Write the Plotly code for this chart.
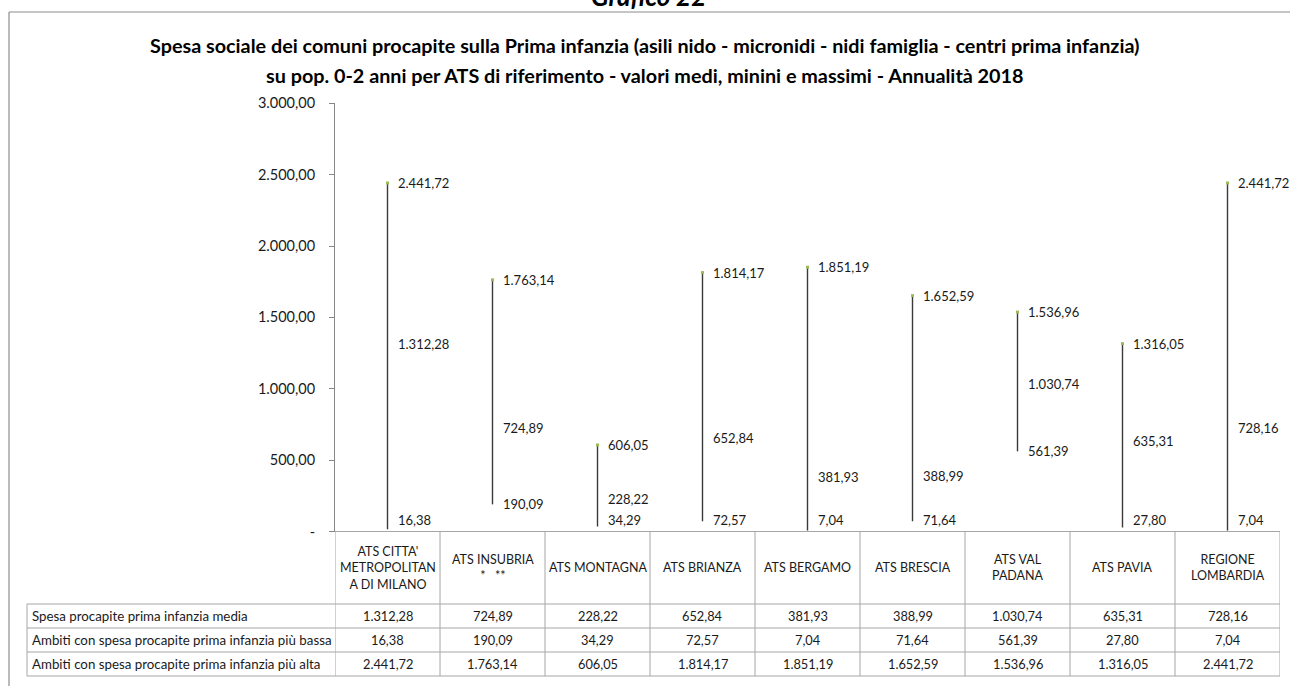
import plotly.graph_objects as go

# ---------------- data ----------------
categories = ["ATS CITTA'<br>METROPOLITAN<br>A DI MILANO", "ATS INSUBRIA<br>*   **", "ATS MONTAGNA",
              "ATS BRIANZA", "ATS BERGAMO", "ATS BRESCIA", "ATS VAL<br>PADANA", "ATS PAVIA",
              "REGIONE<br>LOMBARDIA"]
media = [1312.28, 724.89, 228.22, 652.84, 381.93, 388.99, 1030.74, 635.31, 728.16]
low = [16.38, 190.09, 34.29, 72.57, 7.04, 71.64, 561.39, 27.80, 7.04]
high = [2441.72, 1763.14, 606.05, 1814.17, 1851.19, 1652.59, 1536.96, 1316.05, 2441.72]
row_labels = ["Spesa procapite prima infanzia media",
              "Ambiti con spesa procapite prima infanzia più bassa",
              "Ambiti con spesa procapite prima infanzia più alta"]
y_ticks = [0, 500, 1000, 1500, 2000, 2500, 3000]
title_lines = ["Spesa sociale dei comuni procapite sulla Prima infanzia (asili nido - micronidi - nidi famiglia - centri prima infanzia)",
               "su pop. 0-2 anni per ATS di riferimento - valori medi, minini e massimi - Annualità 2018"]
chart_caption = "Grafico 22"

# ---------------- geometry / style ----------------
W, H = 1290, 686
FONT = "Lato, sans-serif"
TXT = "#1a1a1a"
GRID = "#a6a6a6"

def px_x(p):
    return p / W

def px_y(p):
    return 1 - p / H

def it(v):
    s = f"{v:,.2f}"
    return s.replace(",", "X").replace(".", ",").replace("X", ".")

PLOT_L, PLOT_R, PLOT_T, PLOT_B = 335, 1280, 103.3, 531.5
TABLE_L = 27
HEADER_B = 604
ROW_H = 24

fig = go.Figure()

# high-low lines
xs, ys = [], []
for c, lo, hi in zip(categories, low, high):
    xs += [c, c, None]
    ys += [lo, hi, None]
fig.add_trace(go.Scatter(x=xs, y=ys, mode="lines", line=dict(color="#3a3a3a", width=1.4),
                         hoverinfo="skip", connectgaps=False))
# high markers
fig.add_trace(go.Scatter(x=categories, y=high, mode="markers",
                         marker=dict(size=3, color="#9bbb59", symbol="square"), hoverinfo="skip"))

annotations = []
# data labels
for series in (media, low, high):
    for c, v in zip(categories, series):
        annotations.append(dict(x=c, y=max(v, 80), xref="x", yref="y", text=it(v), showarrow=False,
                                xanchor="left", yanchor="middle", xshift=8,
                                font=dict(family=FONT, size=13, color=TXT)))

# titles
annotations.append(dict(x=px_x(648), y=px_y(-4), xref="paper", yref="paper", text="<b><i>%s</i></b>" % chart_caption,
                        showarrow=False, xanchor="center", yanchor="middle",
                        font=dict(family=FONT, size=26, color="#000000")))
for i, t in enumerate(title_lines):
    annotations.append(dict(x=px_x(645), y=px_y(45 + 30 * i), xref="paper", yref="paper", text="<b>%s</b>" % t,
                            showarrow=False, xanchor="center", yanchor="middle",
                            font=dict(family=FONT, size=19.8, color="#000000")))

# table header
for c in categories:
    annotations.append(dict(x=c, y=px_y((PLOT_B + HEADER_B) / 2), xref="x", yref="paper", text=c,
                            showarrow=False, xanchor="center", yanchor="middle", align="center",
                            font=dict(family=FONT, size=12.5, color=TXT)))
# table rows
for r, (lab, series) in enumerate(zip(row_labels, (media, low, high))):
    yc = px_y(HEADER_B + ROW_H * r + ROW_H / 2)
    annotations.append(dict(x=px_x(TABLE_L + 3), y=yc, xref="paper", yref="paper", text=lab,
                            showarrow=False, xanchor="left", yanchor="middle",
                            font=dict(family=FONT, size=13.3, color=TXT)))
    for c, v in zip(categories, series):
        annotations.append(dict(x=c, y=yc, xref="x", yref="paper", text=it(v), showarrow=False,
                                xanchor="center", yanchor="middle",
                                font=dict(family=FONT, size=12.8, color=TXT)))

shapes = []
# chart area border (top and left)
shapes.append(dict(type="line", xref="paper", yref="paper", x0=px_x(9), x1=1, y0=px_y(12), y1=px_y(12),
                   line=dict(color="#8c8c8c", width=1.2)))
shapes.append(dict(type="line", xref="paper", yref="paper", x0=px_x(9), x1=px_x(9), y0=px_y(12), y1=0,
                   line=dict(color="#8c8c8c", width=1.2)))
# table horizontal lines
shapes.append(dict(type="line", xref="paper", yref="paper", x0=px_x(PLOT_L), x1=px_x(PLOT_R),
                   y0=px_y(PLOT_B), y1=px_y(PLOT_B), line=dict(color=GRID, width=1)))
for r in range(4):
    yy = px_y(HEADER_B + ROW_H * r)
    shapes.append(dict(type="line", xref="paper", yref="paper", x0=px_x(TABLE_L), x1=px_x(PLOT_R),
                       y0=yy, y1=yy, line=dict(color=GRID, width=1)))
# table vertical lines
shapes.append(dict(type="line", xref="paper", yref="paper", x0=px_x(TABLE_L), x1=px_x(TABLE_L),
                   y0=px_y(HEADER_B), y1=px_y(HEADER_B + 3 * ROW_H), line=dict(color=GRID, width=1)))
for k in range(len(categories) + 1):
    shapes.append(dict(type="line", xref="x", yref="paper", x0=k - 0.5, x1=k - 0.5,
                       y0=px_y(PLOT_B), y1=px_y(HEADER_B + 3 * ROW_H), line=dict(color=GRID, width=1)))

fig.update_layout(
    width=W, height=H, margin=dict(l=0, r=0, t=0, b=0, pad=0, autoexpand=False),
    paper_bgcolor="white", plot_bgcolor="white", showlegend=False,
    xaxis=dict(domain=[px_x(PLOT_L), px_x(PLOT_R)], type="category", categoryorder="array",
               categoryarray=categories, range=[-0.5, len(categories) - 0.5], automargin=False,
               showticklabels=False, showgrid=False, zeroline=False, showline=False, ticks=""),
    yaxis=dict(domain=[px_y(PLOT_B), px_y(PLOT_T)], range=[0, 3000], tickvals=y_ticks,
               ticktext=["-" if v == 0 else it(v) for v in y_ticks], automargin=False,
               showgrid=False, zeroline=False, showline=True, linecolor="#868686", linewidth=1,
               ticks="outside", ticklen=5, tickcolor="#868686", ticklabelstandoff=11,
               tickfont=dict(family=FONT, size=14.5, color=TXT)),
    annotations=annotations, shapes=shapes,
)

fig.write_html("out.html", config={"displayModeBar": False},
               post_script="document.body.style.margin='0';document.body.style.padding='0';"
                           "document.body.style.overflow='hidden';"
                           "document.documentElement.style.overflow='hidden';")
